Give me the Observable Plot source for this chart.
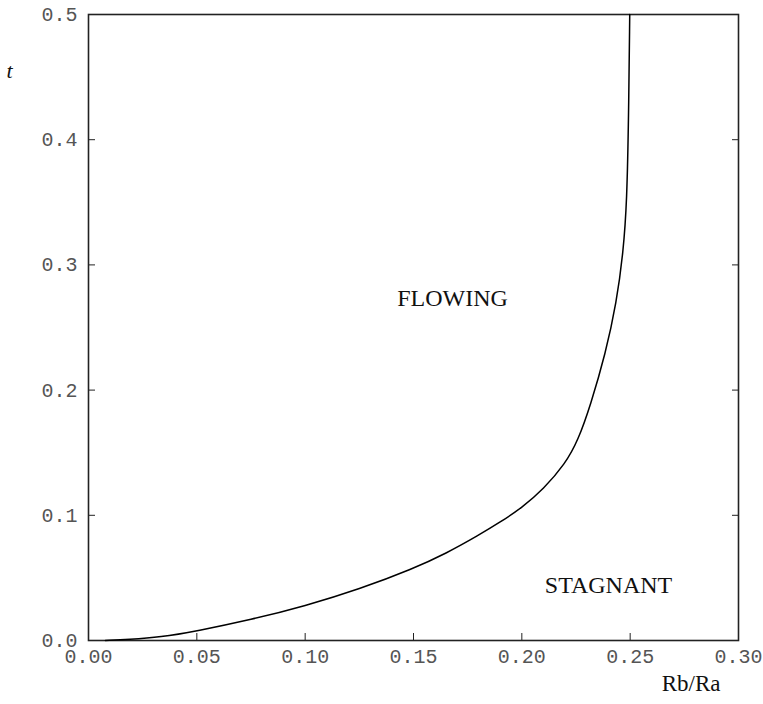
<!DOCTYPE html>
<html><head><meta charset="utf-8">
<script src="https://cdn.jsdelivr.net/npm/d3@7"></script>
<script src="https://cdn.jsdelivr.net/npm/@observablehq/plot@0.6"></script>
<style>body{margin:0;background:#fff}</style>
</head><body><div id="chart"></div>
<script>
// Boundary curve: Rb/Ra (x) vs t (y)
const ratio = [0.0078, 0.0185, 0.0332, 0.05, 0.075, 0.10, 0.125, 0.15, 0.165, 0.18, 0.19, 0.20, 0.21, 0.22, 0.226, 0.2317, 0.2386, 0.2437, 0.2468, 0.2485, 0.2493, 0.2498];
const tval  = [0.000, 0.0008, 0.0026, 0.0076, 0.0166, 0.0276, 0.0410, 0.0575, 0.0695, 0.0840, 0.0945, 0.1060, 0.1210, 0.1410, 0.1600, 0.1880, 0.2290, 0.2700, 0.3100, 0.3500, 0.4200, 0.5];

const xTicks = [0, 0.05, 0.10, 0.15, 0.20, 0.25, 0.30];
const yTicks = [0, 0.1, 0.2, 0.3, 0.4, 0.5];

const regionNames = ["FLOWING", "STAGNANT"];
const regionX = [0.168, 0.240];
const regionY = [0.273, 0.044];

const curve = ratio.map((r, i) => ({r, t: tval[i]}));
const regions = regionNames.map((name, i) => ({name, x: regionX[i], y: regionY[i]}));

const chart = Plot.plot({
  width: 763, height: 704,
  marginLeft: 88, marginRight: 25, marginTop: 14, marginBottom: 64,
  style: {fontFamily: "Liberation Mono", fontSize: "20px", background: "#fff", color: "#555"},
  x: {domain: [0, 0.3]},
  y: {domain: [0, 0.5]},
  marks: [
    Plot.axisX(xTicks, {anchor: "bottom", tickSize: -7, tickFormat: () => "", label: null, stroke: "#222"}),
    Plot.axisY(yTicks, {anchor: "left", tickSize: -7, tickFormat: () => "", label: null, stroke: "#222"}),
    Plot.axisY(yTicks, {anchor: "right", tickSize: -7, tickFormat: () => "", label: null, stroke: "#222"}),
    Plot.axisX(xTicks, {anchor: "bottom", tickSize: 0, tickPadding: 8, tickFormat: d3.format(".2f"), label: null, fill: "#555"}),
    Plot.axisY(yTicks, {anchor: "left", tickSize: 0, tickPadding: 11, tickFormat: d3.format(".1f"), label: null, fill: "#555"}),
    Plot.frame({stroke: "#222", strokeWidth: 1.6}),
    Plot.line(curve, {x: "r", y: "t", curve: "basis", stroke: "#000", strokeWidth: 1.5}),
    Plot.text(regions, {x: "x", y: "y", text: "name", fontFamily: "Liberation Serif", fontSize: 24, fill: "#111"}),
    Plot.text(["t"], {frameAnchor: "top-left", dx: -82, dy: 48, fontFamily: "Liberation Serif", fontStyle: "italic", fontSize: 22, fill: "#111"}),
    Plot.text(["Rb/Ra"], {frameAnchor: "bottom-right", dx: -18, dy: 50, fontFamily: "Liberation Serif", fontSize: 23, fill: "#111"})
  ]
});
document.getElementById("chart").appendChild(chart);
</script>
</body></html>
